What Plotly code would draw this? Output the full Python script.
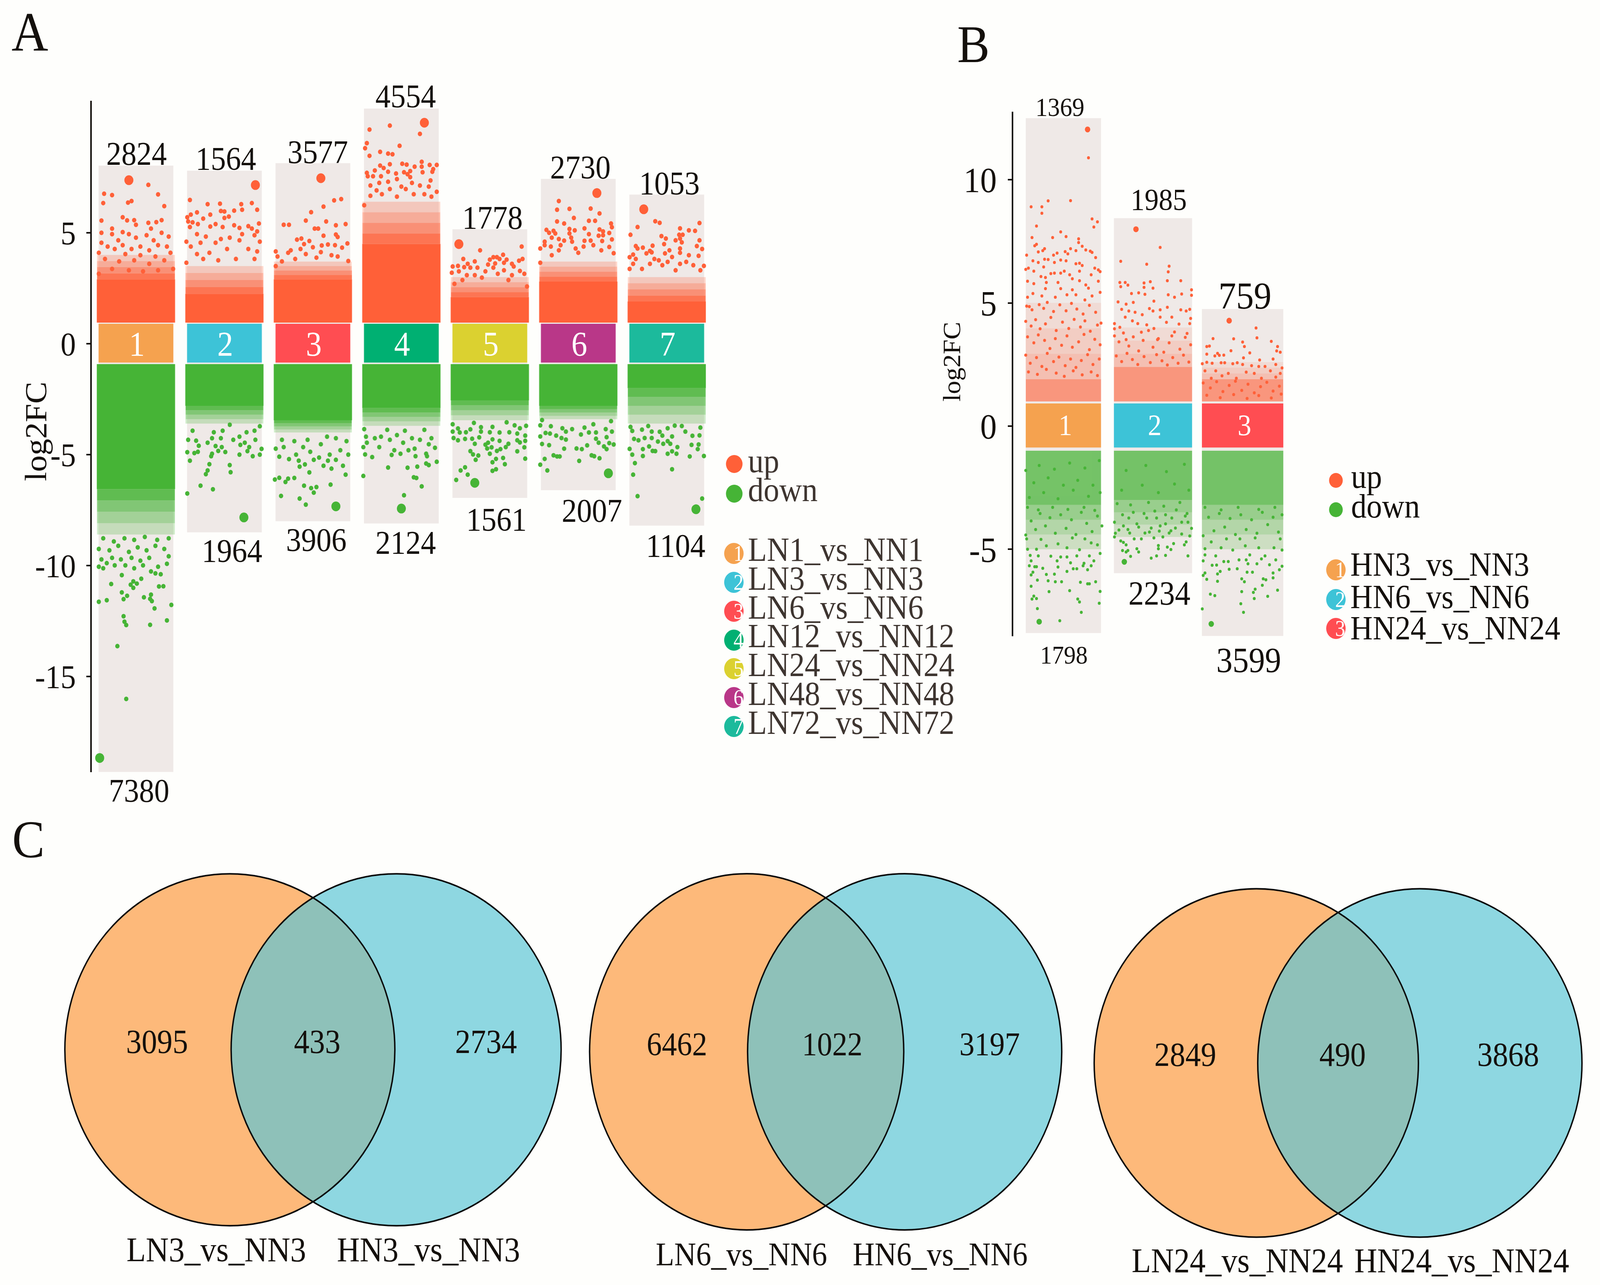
import plotly.graph_objects as go

W, H = 4441, 3290
FONT = "Liberation Serif"
INK = "#14100C"
LEG_INK = "#3E3530"
UP = "#FF6038"
DOWN = "#46B436"
BG = "#EFE9E7"
PAGE = "#FEFEFC"
TILES = ["#F5A24F", "#3DC3D7", "#FF4D52", "#00B072", "#DBD130", "#B93788", "#1CBA9C"]

# ---------- panel A data ----------
A_TOP = [8.03, 7.8, 8.14, 10.6, 5.16, 7.43, 6.72]
A_BOTTOM = [-19.3, -8.5, -8.0, -8.1, -6.95, -6.6, -8.2]
A_UP_COUNT = ["2824", "1564", "3577", "4554", "1778", "2730", "1053"]
A_DOWN_COUNT = ["7380", "1964", "3906", "2124", "1561", "2007", "1104"]
A_UP_SOLID = [2.9, 2.25, 2.9, 4.5, 2.1, 2.8, 1.9]
A_UP_SEMI = [4.0, 3.5, 3.7, 6.4, 3.0, 3.7, 3.0]
A_DOWN_SOLID = [-6.55, -2.8, -3.45, -2.9, -2.55, -2.8, -2.0]
A_DOWN_SEMI = [-8.6, -3.6, -4.0, -3.7, -3.45, -3.4, -3.6]
A_NAMES = ["LN1_vs_NN1", "LN3_vs_NN3", "LN6_vs_NN6", "LN12_vs_NN12", "LN24_vs_NN24", "LN48_vs_NN48", "LN72_vs_NN72"]

# (offset from column centre, log2FC); the first pair in each list is the enlarged extreme point
A1_UP = [(-.08,7.37),(.14,7.16),(-.36,6.76),(-.27,6.7),(.25,6.73),(-.37,6.34),(-.09,6.36),(-.05,6.43),(.32,6.2),(-.39,5.55),(-.15,5.7),(-.1,5.56),(-.02,5.57),(.14,5.45),(.23,5.48),(.29,5.57),(-.39,5.0),(-.27,5.19),(0,5.36),(-.15,5.03),(.17,5.19),(-.39,4.55),(-.27,4.94),(-.2,4.66),(-.08,4.94),(0,4.78),(.12,4.89),(.2,4.66),(.29,5.0),(.37,4.83),(-.32,4.38),(-.24,4.27),(-.15,4.44),(-.05,4.27),(.05,4.38),(.15,4.21),(.25,4.44),(.35,4.38),(.39,4.1),(-.42,4.1),(-.12,4.04),(.05,3.99),(.22,3.93),(-.35,3.82),(-.19,3.71),(-.02,3.76),(.15,3.6),(.32,3.76),(.42,3.37),(-.42,3.15),(-.27,3.37),(-.08,3.31),(.08,3.26),(.25,3.31)]
A2_UP = [(.35,7.15),(-.39,6.48),(-.19,6.29),(-.05,6.31),(.19,6.29),(.31,6.34),(.37,6.04),(-.04,5.98),(0,5.96),(.11,6),(.2,6.04),(-.31,5.92),(-.38,5.82),(-.42,5.7),(-.16,5.82),(.05,5.73),(0,5.67),(-.24,5.64),(-.41,5.51),(-.36,5.47),(-.3,5.39),(-.1,5.39),(-.02,5.26),(.11,5.34),(.39,5.42),(-.39,5.26),(-.16,5.28),(.17,5.22),(.27,5.3),(.31,5.19),(.37,5.06),(-.31,4.94),(-.21,4.83),(-.04,4.72),(.06,4.78),(.2,4.94),(.34,4.89),(-.43,4.6),(-.27,4.55),(-.1,4.55),(.17,4.66),(.4,4.6),(-.38,4.38),(-.17,4.1),(-.31,4.04),(.03,4.27),(.27,4.27),(.37,4.16),(-.43,3.65),(-.24,3.82),(-.07,3.76),(.13,3.82),(.34,3.82)]
A3_UP = [(.09,7.46),(.24,6.46),(.32,6.52),(.12,6.18),(-.02,5.93),(-.08,5.55),(.15,5.51),(-.33,5.36),(-.27,5.36),(.26,5.34),(.37,5.39),(.02,5.19),(.06,5.19),(.26,4.92),(.28,4.81),(.12,4.87),(-.18,4.69),(-.13,4.74),(-.04,4.63),(.39,4.52),(-.1,4.49),(.1,4.43),(.17,4.47),(.25,4.44),(.33,4.33),(-.14,4.27),(0,4.35),(-.25,4.21),(-.42,4.16),(-.28,4.1),(-.08,4.04),(.09,4.13),(.21,3.99),(-.4,3.93),(-.2,3.82),(.04,3.88),(.28,3.93),(.4,3.73),(-.35,3.71),(-.42,3.5)]
A4_UP = [(.26,9.96),(-.13,9.83),(-.36,9.65),(.21,9.46),(-.39,9.04),(-.02,8.92),(-.41,8.81),(-.24,8.65),(-.15,8.57),(-.1,8.54),(-.36,8.47),(.23,8.2),(.01,8.11),(.06,8.07),(.32,8.06),(.4,8.06),(-.24,8.03),(-.13,8.09),(.15,7.98),(.23,7.98),(-.2,7.92),(.36,7.87),(-.3,7.81),(-.39,7.7),(-.15,7.75),(.03,7.73),(.1,7.78),(.24,7.73),(-.38,7.55),(-.32,7.55),(-.23,7.55),(-.06,7.67),(.07,7.64),(.35,7.75),(-.05,7.42),(.1,7.51),(.33,7.36),(-.35,7.13),(-.25,7.25),(-.15,7.3),(0,7.08),(.12,7.25),(.21,7.13),(.31,7.08),(-.28,6.91),(-.13,6.97),(.05,6.97),(.4,6.85),(-.42,6.24),(-.35,6.67),(-.22,6.74),(-.05,6.63),(.14,6.74),(.26,6.74),(.34,6.63)]
A5_UP = [(-.35,4.49),(-.11,4.21),(.36,4.38),(-.3,3.82),(.15,4.01),(.04,3.9),(.08,3.9),(.11,3.82),(.19,3.79),(0,3.79),(.37,3.82),(.33,3.74),(-.17,3.71),(-.25,3.6),(-.02,3.57),(.06,3.62),(.16,3.65),(.25,3.6),(-.42,3.48),(-.36,3.51),(-.29,3.45),(-.22,3.43),(-.14,3.43),(.04,3.43),(.27,3.48),(-.43,3.2),(-.35,3.26),(-.05,3.26),(.16,3.31),(.34,3.28),(.39,3.15),(-.26,3.09),(-.17,3.09),(.09,3.15),(.25,3.09),(-.4,2.7),(-.31,2.87),(-.09,2.98),(.21,2.87),(.42,2.58)]
A6_UP = [(.21,6.79),(-.22,6.43),(-.24,6.04),(-.1,6.08),(.14,6.09),(.24,5.87),(-.05,5.67),(-.24,5.51),(-.16,5.42),(.12,5.54),(.19,5.54),(.37,5.42),(.38,5.25),(.07,5.2),(-.36,5.13),(-.28,5.09),(-.1,5.17),(-.04,5.11),(.24,5.15),(.28,5.06),(.35,4.99),(-.33,5),(-.26,4.97),(-.1,4.97),(.12,4.94),(.28,4.89),(.23,4.87),(-.3,4.78),(-.22,4.72),(-.08,4.78),(-.38,4.6),(-.16,4.65),(.07,4.64),(.14,4.65),(.27,4.63),(.38,4.7),(-.07,4.6),(-.38,4.44),(-.31,4.38),(-.2,4.44),(-.03,4.29),(.06,4.38),(.17,4.44),(.35,4.36),(-.43,4.29),(-.22,4.21),(0,4.1),(.26,4.21),(.4,4.08),(-.43,3.65),(-.3,3.99)]
A7_UP = [(-.26,6.06),(-.13,5.52),(-.08,5.45),(.37,5.44),(-.33,5.26),(.15,5.2),(.25,5.11),(.32,5.09),(-.41,4.91),(-.06,4.85),(.14,4.91),(.18,4.91),(-.01,4.74),(.15,4.74),(.1,4.66),(.37,4.66),(.17,4.57),(-.03,4.49),(-.16,4.42),(-.35,4.4),(.34,4.4),(-.33,4.29),(-.27,4.33),(.15,4.29),(.4,4.27),(-.19,4.18),(.03,4.21),(-.23,4.07),(-.17,4.12),(-.02,4.07),(.15,4.1),(-.38,4.02),(.06,3.91),(.25,3.99),(.36,3.96),(-.42,3.9),(-.35,3.82),(-.14,3.82),(-.09,3.76),(.01,3.69),(.15,3.6),(.22,3.69),(.3,3.54),(.42,3.51),(-.38,3.6),(-.19,3.6),(-.05,3.54),(-.42,3.37),(-.28,3.37),(.1,3.31),(.38,3.31)]

A1_DOWN = [(-.41,-18.67),(-.11,-16.01),(-.21,-13.63),(.16,-12.67),(.35,-12.47),(-.11,-12.68),(-.13,-12.53),(-.14,-12.28),(.21,-11.93),(.4,-11.77),(-.42,-11.63),(-.33,-11.56),(.18,-11.6),(.16,-11.5),(-.14,-11.51),(-.1,-11.36),(.09,-11.43),(.17,-11.31),(-.16,-11.21),(.26,-10.94),(.31,-10.93),(-.06,-10.86),(-.03,-11),(-.28,-10.83),(.01,-10.81),(-.03,-10.71),(.06,-10.59),(-.16,-10.43),(.17,-10.26),(.22,-10.35),(.28,-10.39),(-.42,-10.05),(-.37,-10.12),(-.33,-9.89),(-.24,-9.99),(-.12,-9.99),(-.02,-10.12),(.08,-9.99),(.25,-10.05),(.35,-9.92),(-.39,-9.72),(-.27,-9.65),(-.17,-9.72),(-.05,-9.65),(.05,-9.78),(.15,-9.65),(.37,-9.58),(-.42,-9.25),(-.3,-9.31),(-.2,-9.11),(-.08,-9.38),(.02,-9.18),(.12,-9.31),(.22,-9.11),(.32,-9.25),(-.37,-8.77),(-.25,-8.91),(-.13,-8.77),(-.02,-8.84),(.1,-8.71),(.24,-8.84),(.37,-8.77)]
A2_DOWN = [(.22,-7.83),(-.42,-6.75),(-.27,-6.4),(-.13,-6.56),(-.21,-5.88),(-.19,-5.71),(.07,-5.79),(-.17,-5.43),(.06,-5.47),(-.39,-5.27),(-.42,-4.89),(-.34,-4.93),(-.3,-4.87),(-.15,-5.07),(-.14,-4.96),(.01,-4.88),(.17,-5),(.32,-5.07),(.4,-5),(.42,-4.74),(.26,-4.84),(.28,-4.66),(-.03,-4.66),(-.07,-4.83),(-.1,-4.61),(.18,-4.56),(-.29,-4.6),(-.41,-4.33),(-.32,-4.37),(-.19,-4.46),(.1,-4.33),(.23,-4.46),(.35,-4.33),(-.14,-4.26),(-.04,-4.26),(.17,-4.19),(-.36,-3.92),(-.12,-3.99),(-.02,-3.92),(.06,-3.65),(.25,-3.99),(.34,-3.92),(.4,-3.72)]
A3_DOWN = [(.26,-7.33),(-.36,-6.86),(-.15,-6.98),(-.08,-7.25),(-.43,-6.12),(-.38,-6.04),(-.31,-6.23),(-.28,-6.08),(-.21,-6.05),(-.04,-5.8),(-.1,-6.4),(-.02,-6.51),(.04,-6.46),(.01,-6.71),(.2,-6.35),(.37,-5.9),(.21,-5.63),(.12,-5.5),(.34,-5.5),(-.15,-5.54),(-.09,-5.44),(-.16,-5.27),(-.27,-5.2),(.01,-5.23),(.07,-5.13),(.17,-5.27),(.26,-5.23),(.4,-5),(-.38,-5.09),(-.42,-4.73),(-.19,-5),(-.03,-4.87),(.19,-5),(.31,-4.8),(-.33,-4.66),(-.11,-4.66),(.09,-4.53),(.38,-4.39),(-.35,-4.33),(-.21,-4.39),(-.06,-4.33),(.16,-4.19),(.26,-4.26)]
A4_DOWN = [(0,-7.43),(.03,-6.83),(.23,-6.43),(-.43,-5.96),(-.15,-5.58),(.07,-5.59),(.18,-5.54),(.14,-6.02),(.17,-6.05),(.28,-5.4),(.31,-5.47),(.4,-5.32),(-.41,-4.99),(-.33,-5.11),(-.11,-5.01),(-.01,-4.96),(.08,-4.8),(.16,-5.07),(.28,-4.96),(.29,-5.07),(.38,-4.69),(-.43,-4.66),(-.25,-4.66),(-.08,-4.8),(.15,-4.73),(-.39,-4.46),(-.3,-4.26),(-.13,-4.33),(.02,-4.46),(.21,-4.33),(.31,-4.53),(-.4,-4.19),(-.23,-4.19),(-.05,-4.12),(.12,-4.26),(.34,-4.26),(-.42,-3.85),(-.16,-3.88),(.04,-3.92),(.26,-3.88)]
A5_DOWN = [(-.17,-6.27),(-.38,-6.14),(-.25,-5.9),(-.33,-5.71),(-.28,-5.57),(.03,-5.73),(.07,-5.66),(.17,-5.43),(.03,-5.34),(.07,-5.19),(.15,-5.15),(.4,-5.18),(-.16,-5.23),(-.13,-5.04),(-.19,-4.99),(-.22,-4.84),(0,-4.96),(.31,-4.85),(.08,-4.83),(.12,-4.75),(.18,-4.66),(.39,-4.67),(-.03,-4.72),(-.05,-4.55),(.02,-4.67),(.21,-4.51),(-.17,-4.51),(-.02,-4.46),(.11,-4.38),(.03,-4.31),(.31,-4.35),(.34,-4.45),(.4,-4.38),(-.36,-4.35),(-.41,-4.25),(-.28,-4.29),(-.2,-4.28),(-.12,-4.22),(.11,-4),(-.27,-3.99),(-.34,-4),(-.42,-3.96),(-.1,-3.96),(0,-3.99),(.22,-3.99),(.31,-4.05),(.4,-4.14),(-.42,-3.63),(-.36,-3.82),(-.22,-3.86),(-.1,-3.76),(.03,-3.75),(.34,-3.81),(.41,-3.7),(-.18,-3.57),(.19,-3.54),(.28,-3.68)]
A6_DOWN = [(.34,-5.84),(-.35,-5.71),(-.43,-5.45),(-.38,-5.19),(.01,-5.28),(.24,-5.16),(-.28,-5.03),(-.24,-5.08),(-.21,-5.08),(.15,-5.03),(.18,-5.07),(-.16,-4.73),(-.02,-4.72),(.04,-4.75),(.32,-4.75),(-.33,-4.57),(-.41,-4.52),(.1,-4.58),(.29,-4.63),(.23,-4.46),(.35,-4.48),(.4,-4.54),(-.14,-4.32),(.2,-4.28),(.32,-4.21),(-.43,-4.18),(-.19,-4.25),(-.25,-4.14),(-.32,-4.05),(-.37,-4.02),(.03,-4.09),(.12,-4),(.2,-4),(.38,-3.96),(-.14,-3.96),(-.07,-3.85),(-.43,-3.68),(.07,-3.78),(.31,-3.85),(-.18,-3.81),(-.31,-3.72),(.17,-3.63),(.37,-3.49),(-.41,-3.44)]
A7_DOWN = [(.33,-7.46),(.4,-6.98),(-.33,-6.87),(-.38,-5.9),(.06,-5.66),(-.36,-5.38),(.42,-5.06),(-.27,-5.06),(.26,-5.08),(-.39,-5),(.01,-4.96),(.11,-4.96),(.06,-4.85),(-.42,-4.74),(-.27,-4.75),(-.16,-4.83),(-.13,-4.84),(.35,-4.75),(.12,-4.66),(-.2,-4.63),(.28,-4.56),(.36,-4.54),(-.04,-4.51),(.04,-4.51),(-.1,-4.41),(-.32,-4.35),(-.37,-4.29),(-.25,-4.25),(-.17,-4.25),(.01,-4.39),(.29,-4.15),(.37,-4.13),(.06,-4.18),(-.05,-4.14),(-.17,-3.96),(-.08,-3.97),(.21,-3.96),(-.39,-3.93),(-.28,-3.87),(.01,-3.81),(.38,-3.78),(.09,-3.69),(-.21,-3.71),(.17,-3.71),(-.41,-3.75)]

# ---------- panel B data ----------
B_TOP = [12.5, 8.44, 4.75]
B_BOTTOM = [-8.4, -5.97, -8.52]
B_WIDTH = [0.84, 0.872, 0.908]
B_UP_COUNT = ["1369", "1985", "759"]
B_DOWN_COUNT = ["1798", "2234", "3599"]
B_UP_DENSE = [1.9, 2.4, 1.9]
B_UP_SPARSE = [5.0, 4.0, 2.6]
B_DOWN_DENSE = [-3.2, -3.0, -3.2]
B_DOWN_SPARSE = [-5.0, -4.5, -5.0]
B_NAMES = ["HN3_vs_NN3", "HN6_vs_NN6", "HN24_vs_NN24"]

B1_UP = [(.27,12.04),(.28,10.89),(-.17,9.14),(.08,9.15),(-.36,8.9),(-.24,8.9),(-.24,8.64),(.32,8.41),(.38,8.29),(.34,8.08),(-.3,8.12),(-.03,7.88),(.03,7.69),(-.12,7.65),(-.35,7.65),(.17,7.6),(.17,7.45),(-.3,7.38),(-.32,7.32),(.21,7.3),(-.21,7.2),(.08,7.2),(-.23,7.12),(.02,7.08),(.14,7.12),(.25,7.15),(.3,7.1),(.32,7.05),(-.41,6.94),(-.11,6.94),(-.07,7.02),(.05,6.99),(-.28,7.07),(.36,6.84),(-.34,6.71),(-.28,6.64),(-.21,6.77),(-.17,6.76),(-.1,6.64),(-.03,6.74),(.03,6.71),(.14,6.59),(.18,6.61),(-.42,6.36),(-.39,6.41),(.21,6.52),(-.22,6.46),(.35,6.41),(.39,6.34),(-.33,6.29),(.41,6.27),(.01,6.29),(.18,6.29),(-.1,6.21),(-.14,6.19),(-.03,6.21),(.31,6.14),(-.25,6.07),(-.2,6.03),(.07,6.14),(-.4,5.88),(-.33,5.78),(-.19,5.83),(-.06,5.83),(.1,5.98),(.18,5.9),(.25,5.73),(.39,5.88),(-.2,5.58),(-.03,5.58),(.1,5.53),(.28,5.6),(-.4,5.23),(-.34,5.38),(-.24,5.28),(-.09,5.23),(.04,5.33),(.14,5.33),(.24,5.12),(.32,5.28),(.41,5.43),
         (-.41,4.87),(-.38,4.85),(-.35,4.72),(-.27,4.93),(-.22,4.78),(-.18,5.02),(-.11,4.65),(-.04,4.92),(.03,4.68),(.09,4.98),(.15,4.75),(.22,4.55),(.29,4.9),(.36,4.62),(.42,4.18),(-.42,4.25),(-.36,4.06),(-.31,4.32),(-.26,3.95),(-.2,4.15),(-.14,4.41),(-.08,3.88),(-.01,4.22),(.06,3.96),(.12,4.33),(.19,4.02),(.24,4.27),(.3,3.85),(.38,4.1),(-.4,3.62),(-.33,3.38),(-.28,3.7),(-.21,3.48),(-.15,3.15),(-.09,3.55),(-.02,3.28),(.04,3.66),(.1,3.2),(.17,3.42),(.23,3.72),(.29,3.1),(.35,3.52),(.41,3.3),(-.42,2.88),(-.37,2.55),(-.3,2.78),(-.24,2.42),(-.18,2.95),(-.11,2.62),(-.05,2.8),(.02,2.45),(.08,2.72),(.14,2.38),(.2,2.66),(.27,2.9),(.33,2.5),(.4,2.72),(-.39,2.2),(-.29,2.1),(-.19,2.3),(-.08,2.15),(.01,2.02),(.11,2.24),(.21,2.08),(.31,2.2),(.38,2.05)]
B2_UP = [(-.19,7.99),(.08,7.25),(-.36,6.69),(-.07,6.57),(.18,6.49),(.17,6.26),(.16,5.9),(.31,5.9),(-.37,5.83),(-.31,5.83),(-.36,5.66),(-.28,5.72),(-.1,5.81),(-.1,5.63),(-.03,5.86),(0,5.6),(.43,5.53),(-.24,5.38),(-.16,5.41),(-.09,5.35),(.17,5.33),(.32,5.36),(.43,5.31),(.24,5.23),(.01,5.07),(-.39,5.04),(-.22,5.02),(-.3,4.95),(-.35,4.74),(-.04,4.77),(.08,4.72),(.16,4.82),(.31,4.72),(.37,4.67),(.41,4.74),(-.27,4.67),(-.2,4.62),(-.12,4.52),(0,4.67),(-.31,4.42),(-.23,4.27),(-.43,4.16),(-.07,4.11),(.08,4.42),(.21,4.42),(.42,4.37),(-.37,4.01),(-.17,4.16),(.01,3.96),(.15,4.21),(.29,4.14),(.41,4.16),(-.43,3.66),(-.3,3.51),(-.13,3.81),(.05,3.51),(.21,3.66),(.38,3.76),
         (-.43,3.95),(-.38,3.42),(-.33,3.78),(-.27,3.25),(-.22,3.62),(-.16,3.05),(-.11,3.48),(-.05,3.88),(0,3.2),(.06,3.55),(.12,3),(.18,3.38),(.24,3.82),(.3,3.12),(.36,3.6),(.42,3.3),(-.41,2.85),(-.35,2.62),(-.29,2.95),(-.23,2.7),(-.17,2.5),(-.1,2.82),(-.03,2.58),(.04,2.9),(.1,2.65),(.16,2.48),(.22,2.78),(.28,2.55),(.34,2.88),(.4,2.6)]
B3_UP = [(-.15,4.28),(.15,3.98),(.16,3.58),(-.33,3.55),(-.1,3.54),(.32,3.44),(0,3.41),(.39,3.23),(-.37,3.25),(-.4,3.23),(.02,3.23),(-.13,3.06),(.38,3.05),(.42,3),(-.4,2.92),(.08,2.97),(-.28,2.95),(-.26,2.87),(-.31,2.85),(-.21,2.88),(.01,2.77),(.19,2.68),(.34,2.72),(-.45,2.53),(-.4,2.59),(-.34,2.55),(-.24,2.57),(-.2,2.57),(-.11,2.53),(-.06,2.57),(0,2.5),(.1,2.45),(.18,2.42),(.25,2.42),(.37,2.5),(.44,2.36),(-.42,2.24),(-.3,2.24),(-.16,2.14),(.04,2.19),(.13,2.14),(.31,2.24),(.42,2.14),(-.35,1.94),(-.23,2.04),(-.07,1.94),(.21,1.94),(.37,1.99),
         (-.44,1.75),(-.36,1.55),(-.29,1.8),(-.22,1.4),(-.15,1.65),(-.08,1.82),(-.01,1.45),(.06,1.7),(.13,1.35),(.2,1.6),(.27,1.78),(.34,1.42),(.41,1.62),(-.4,1.25),(-.25,1.15),(-.1,1.28),(.05,1.12),(.18,1.24),(.32,1.14),(.43,1.3)]
B1_DOWN = [(-.27,-7.94),(-.04,-7.9),(.2,-7.56),(-.29,-7.41),(.4,-7.19),(.18,-7.14),(.16,-7.02),(-.35,-7.02),(-.3,-7),(-.33,-6.9),(.41,-6.71),(-.16,-6.72),(.07,-6.68),(-.36,-6.5),(-.29,-6.25),(-.17,-6.28),(-.09,-6.32),(-.02,-6.32),(.19,-6.34),(.27,-6.4),(.29,-6.4),(.36,-6.32),(-.36,-6.04),(-.19,-6.02),(-.1,-6.01),(.04,-5.9),(-.34,-5.93),(-.23,-5.77),(-.06,-5.72),(.11,-5.79),(.15,-5.79),(.22,-5.67),(.27,-5.83),(.31,-5.67),(.34,-5.47),(-.38,-5.67),(-.32,-5.71),(-.3,-5.71),(-.36,-5.47),(-.07,-5.47),(.08,-5.55),(.23,-5.57),(-.37,-5.25),(-.28,-5.27),(-.14,-5.28),(-.03,-5.31),(.04,-5.31),(.15,-5.27),(.29,-5.27),(.41,-5.17),(-.4,-5),(-.3,-5.0),(-.19,-4.86),(.04,-4.94),(.18,-5.02),(.38,-4.82),(-.41,-4.58),(-.25,-4.6),(-.06,-4.78),(.1,-4.54),(.24,-4.58),(.31,-4.74),
           (-.42,-4.42),(-.36,-3.85),(-.31,-4.2),(-.26,-3.55),(-.2,-4.05),(-.15,-3.72),(-.09,-4.35),(-.03,-3.6),(.03,-4.15),(.09,-3.8),(.14,-4.4),(.2,-3.5),(.26,-3.95),(.32,-4.28),(.38,-3.65),(.43,-4.05),(-.4,-3.3),(-.28,-3.4),(-.12,-3.3),(.05,-3.38),(.23,-3.3),(.35,-3.42),(-.38,-2.9),(-.22,-2.7),(-.06,-2.95),(.11,-2.6),(.28,-2.85),(.41,-2.7),(-.33,-2.3),(-.17,-2.1),(0,-2.4),(.16,-2.2),(.33,-2.4),(-.42,-1.8),(-.27,-1.6),(-.1,-1.75),(.07,-1.5),(.24,-1.7),(.4,-1.4)]
B2_DOWN = [(-.32,-5.51),(-.02,-5.36),(.04,-5.27),(.14,-5.25),(.39,-5.27),(-.25,-5.29),(-.16,-5.11),(-.34,-5.05),(-.3,-5.11),(-.28,-5.05),(-.18,-4.98),(.06,-4.98),(.2,-5.01),(.16,-4.91),(-.33,-4.72),(-.3,-4.82),(.06,-4.85),(.23,-4.77),(.35,-4.82),(.37,-4.7),(-.43,-4.5),(-.36,-4.66),(-.21,-4.58),(-.13,-4.58),(.01,-4.54),(.11,-4.5),(.41,-4.46),(-.38,-4.22),(-.26,-4.34),(-.09,-4.34),(.07,-4.26),(.18,-4.34),(.32,-4.38),(-.43,-3.9),(-.33,-4.05),(-.18,-3.97),(-.02,-4.14),(.14,-3.97),(.25,-4.14),(.39,-3.9),(-.27,-3.73),(-.07,-3.73),(.04,-3.73),(.21,-3.73),(.36,-3.65),
           (-.42,-4.35),(-.34,-3.6),(-.28,-4.2),(-.22,-3.5),(-.16,-4.1),(-.1,-3.55),(-.04,-4.3),(.02,-3.45),(.08,-4.05),(.14,-3.6),(.2,-4.25),(.26,-3.4),(.32,-3.9),(.38,-3.55),(.43,-4.15),(-.4,-3.15),(-.25,-3.2),(-.05,-3.1),(.12,-3.25),(.3,-3.1),(-.35,-2.6),(-.12,-2.4),(.06,-2.7),(.24,-2.35),(.4,-2.6),(-.3,-1.8),(-.08,-1.6),(.15,-1.85),(.35,-1.55)]
B3_DOWN = [(-.35,-8.03),(.01,-7.56),(-.45,-7.42),(-.02,-7.21),(.13,-7),(.28,-6.91),(-.36,-6.82),(-.31,-6.88),(.39,-6.66),(-.01,-6.72),(.12,-6.75),(.14,-6.62),(.22,-6.46),(-.28,-6.3),(-.4,-6.22),(-.01,-6.2),(.02,-6.32),(.23,-6.2),(.26,-6.24),(.34,-6.16),(-.44,-6.06),(-.42,-5.96),(-.28,-6),(-.25,-5.9),(.05,-5.93),(.11,-5.93),(.34,-5.96),(.41,-5.83),(.44,-5.69),(-.34,-5.65),(-.29,-5.64),(-.15,-5.81),(-.06,-5.79),(.06,-5.59),(.16,-5.59),(.3,-5.63),(-.44,-5.47),(-.21,-5.5),(-.16,-5.5),(-.04,-5.43),(.04,-5.43),(.21,-5.39),(.37,-5.43),(-.42,-5.23),(-.3,-5.27),(-.11,-5.03),(.08,-5.23),(.25,-5.27),(.44,-5.03),(-.42,-4.98),(-.24,-4.94),(.03,-4.86),(.18,-4.94),(.35,-4.94),(-.35,-4.7),(-.18,-4.58),(-.03,-4.58),(.14,-4.54),(.42,-4.58),
           (-.44,-4.45),(-.38,-3.7),(-.32,-4.25),(-.26,-3.55),(-.2,-4.1),(-.14,-3.75),(-.08,-4.4),(-.02,-3.6),(.04,-4.2),(.1,-3.8),(.16,-4.35),(.22,-3.5),(.28,-4),(.34,-3.7),(.4,-4.3),(.44,-3.6),(-.42,-3.3),(-.24,-3.4),(-.05,-3.3),(.18,-3.38),(.36,-3.3)]

# ---------- panel C data ----------
VENN_LEFT = ["3095", "6462", "2849"]
VENN_MIDDLE = ["433", "1022", "490"]
VENN_RIGHT = ["2734", "3197", "3868"]
VENN_LEFT_NAME = ["LN3_vs_NN3", "LN6_vs_NN6", "LN24_vs_NN24"]
VENN_RIGHT_NAME = ["HN3_vs_NN3", "HN6_vs_NN6", "HN24_vs_NN24"]

A_UP = [A1_UP, A2_UP, A3_UP, A4_UP, A5_UP, A6_UP, A7_UP]
A_DOWN = [A1_DOWN, A2_DOWN, A3_DOWN, A4_DOWN, A5_DOWN, A6_DOWN, A7_DOWN]
B_UP = [B1_UP, B2_UP, B3_UP]
B_DOWN = [B1_DOWN, B2_DOWN, B3_DOWN]


def X(p):
    return p / W


def Y(p):
    return 1 - p / H


def bar(xs, lo, hi, width, color, xa, ya, opacity=1):
    return go.Bar(x=xs, y=[h - l for l, h in zip(lo, hi)], base=lo, width=width,
                  marker=dict(color=color, line=dict(width=0)), opacity=opacity,
                  xaxis=xa, yaxis=ya, hoverinfo="skip", showlegend=False)


def dots(columns, color, small, big, xa, ya):
    xs, ys, sizes = [], [], []
    for i, pts in enumerate(columns):
        for k, (dx, v) in enumerate(pts):
            xs.append(i + 1 + dx)
            ys.append(v)
            sizes.append(big if k == 0 else small)
    return go.Scatter(x=xs, y=ys, mode="markers", cliponaxis=False,
                      marker=dict(color=color, size=sizes, opacity=1, line=dict(width=0)),
                      xaxis=xa, yaxis=ya, hoverinfo="skip", showlegend=False)


def fade(fig, xs, near, far, width, color, xa, ya, opacities):
    """Bands between the solid part of a cloud and its scattered edge, thinning outwards."""
    n = len(opacities)
    for j, op in enumerate(opacities):
        a = [s + (e - s) * j / n for s, e in zip(near, far)]
        b = [s + (e - s) * (j + 1) / n for s, e in zip(near, far)]
        lo = [min(p, q) for p, q in zip(a, b)]
        hi = [max(p, q) for p, q in zip(a, b)]
        fig.add_trace(bar(xs, lo, hi, width, color, xa, ya, op))


fig = go.Figure()

# panel A
ax = list(range(1, 8))
FADE_A = [0.85, 0.65, 0.45, 0.25]
fig.add_trace(bar(ax, A_BOTTOM, A_TOP, 0.845, BG, "x", "y"))
fade(fig, ax, A_UP_SOLID, A_UP_SEMI, 0.88, UP, "x", "y", FADE_A)
fig.add_trace(bar(ax, [0.95] * 7, A_UP_SOLID, 0.885, UP, "x", "y"))
fade(fig, ax, A_DOWN_SOLID, A_DOWN_SEMI, 0.88, DOWN, "x", "y", FADE_A)
fig.add_trace(bar(ax, A_DOWN_SOLID, [-0.92] * 7, 0.885, DOWN, "x", "y"))
fig.add_trace(bar(ax, [-0.85] * 7, [0.9] * 7, 0.845, TILES, "x", "y"))
fig.add_trace(dots(A_UP, UP, 12, 25, "x", "y"))
fig.add_trace(dots(A_DOWN, DOWN, 12, 25, "x", "y"))

# panel B
bx = [1, 2, 3]
fig.add_trace(bar(bx, B_BOTTOM, B_TOP, B_WIDTH, BG, "x2", "y2"))
fade(fig, bx, B_UP_DENSE, B_UP_SPARSE, B_WIDTH, UP, "x2", "y2", [0.3, 0.2, 0.1])
fig.add_trace(bar(bx, [1] * 3, B_UP_DENSE, B_WIDTH, UP, "x2", "y2", 0.6))
fade(fig, bx, B_DOWN_DENSE, B_DOWN_SPARSE, B_WIDTH, DOWN, "x2", "y2", [0.5, 0.35, 0.2])
fig.add_trace(bar(bx, B_DOWN_DENSE, [-1] * 3, B_WIDTH, DOWN, "x2", "y2", 0.72))
fig.add_trace(bar(bx, [-0.87] * 3, [0.92] * 3, B_WIDTH, TILES[:3], "x2", "y2"))
fig.add_trace(dots(B_UP, UP, 8, 15, "x2", "y2"))
fig.add_trace(dots(B_DOWN, DOWN, 8, 15, "x2", "y2"))

notes = []


def text(s, px, py, size, color=INK, anchor="center", angle=0):
    notes.append(dict(text=s, x=X(px), y=Y(py), xref="paper", yref="paper", showarrow=False,
                      xanchor=anchor, yanchor="middle", textangle=angle,
                      font=dict(family=FONT, size=size, color=color), borderpad=0, borderwidth=0))


# panel letters
text("A", 83, 81, 141)
text("B", 2702, 113, 135)
text("C", 79, 2149, 135)

# axis titles
text("log2FC", 99, 1105, 85, angle=-90)
text("log2FC", 2642, 926, 68, angle=-90)

# panel A counts
A_TOP_POS = [(379, 394), (627, 407), (882, 389), (1126, 247), (1367, 557), (1611, 428), (1858, 469)]
A_BOT_POS = [(386, 2025), (644, 1410), (878, 1382), (1126, 1389), (1378, 1330), (1643, 1307), (1876, 1398)]
for s, (x, y) in zip(A_UP_COUNT, A_TOP_POS):
    text(s, x, y, 84)
for s, (x, y) in zip(A_DOWN_COUNT, A_BOT_POS):
    text(s, x, y, 84)

# panel B counts
for s, (x, y), sz in zip(B_UP_COUNT, [(2942, 274), (3216, 510), (3455, 757)], [68, 78, 98]):
    text(s, x, y, sz)
for s, (x, y), sz in zip(B_DOWN_COUNT, [(2953, 1676), (3218, 1519), (3466, 1690)], [66, 86, 90]):
    text(s, x, y, sz)

# tile digits
for i in ax:
    notes.append(dict(text=str(i), x=i + 0.01, y=0.0, xref="x", yref="y", showarrow=False,
                      font=dict(family=FONT, size=88, color="white")))
for i in bx:
    notes.append(dict(text=str(i), x=i + 0.02, y=0.05, xref="x2", yref="y2", showarrow=False,
                      font=dict(family=FONT, size=76, color="white")))

shapes = []


def dot(cx, cy, d, color):
    shapes.append(dict(type="circle", xref="paper", yref="paper", x0=X(cx - d / 2), x1=X(cx + d / 2),
                       y0=Y(cy + d / 2), y1=Y(cy - d / 2), fillcolor=color, line=dict(width=0)))


# legends
dot(2038, 1188, 46, UP)
dot(2038, 1264, 46, DOWN)
text("up", 2076, 1179, 87, LEG_INK, "left")
text("down", 2076, 1253, 87, LEG_INK, "left")
A_ROW_DOT = [1417, 1491, 1565, 1639, 1712, 1786, 1860]
A_ROW_TEXT = [1407, 1481, 1555, 1628, 1702, 1776, 1850]
for i, (name, yd, yt) in enumerate(zip(A_NAMES, A_ROW_DOT, A_ROW_TEXT)):
    dot(2037, yd, 54, TILES[i])
    text(str(i + 1), 2050, yd, 56, "white")
    text(name, 2076, yt, 86, LEG_INK, "left")

dot(3708, 1230, 38, UP)
dot(3708, 1305, 38, DOWN)
text("up", 3750, 1220, 86, INK, "left")
text("down", 3750, 1296, 86, INK, "left")
B_ROW_DOT = [1459, 1535, 1609]
B_ROW_TEXT = [1445, 1528, 1608]
for i, (name, yd, yt) in enumerate(zip(B_NAMES, B_ROW_DOT, B_ROW_TEXT)):
    dot(3708, yd, 54, TILES[i])
    text(str(i + 1), 3720, yd, 56, "white")
    text(name, 3748, yt, 86, INK, "left")

# Venn diagrams
VENN_GEOM = [(638, 1099.5, 458, 2687.7, 450.5), (2072.5, 2511, 436, 2693, 456), (3487, 3941, 450, 2721.5, 446)]
VENN_NUM_X = [(436, 880, 1349), (1879, 2310, 2747), (3290, 3726, 4186)]
VENN_NUM_Y = [2667, 2673, 2700]
VENN_NAME_X = [(600, 1189), (2058, 2609), (3434, 4057)]
VENN_NAME_Y = [3199, 3211, 3227]
VENN_FONT = [(86, 88), (84, 84), (86, 88)]


def ellipse(cx, cy, rx, ry, fill, lw):
    shapes.append(dict(type="circle", xref="paper", yref="paper", x0=X(cx - rx), x1=X(cx + rx),
                       y0=Y(cy + ry), y1=Y(cy - ry), fillcolor=fill,
                       line=dict(width=lw, color="#0A0A0A")))


for k in range(3):
    lx, rx_c, r, cy, ry = VENN_GEOM[k]
    ellipse(lx, cy, r, ry, "#FDB97A", 0)
    ellipse(rx_c, cy, r, ry, "rgba(92,197,213,0.69)", 0)
    ellipse(lx, cy, r, ry, "rgba(0,0,0,0)", 4)
    ellipse(rx_c, cy, r, ry, "rgba(0,0,0,0)", 4)
    nx = VENN_NUM_X[k]
    text(VENN_LEFT[k], nx[0], VENN_NUM_Y[k], VENN_FONT[k][0])
    text(VENN_MIDDLE[k], nx[1], VENN_NUM_Y[k], VENN_FONT[k][0])
    text(VENN_RIGHT[k], nx[2], VENN_NUM_Y[k], VENN_FONT[k][0])
    text(VENN_LEFT_NAME[k], VENN_NAME_X[k][0], VENN_NAME_Y[k], VENN_FONT[k][1])
    text(VENN_RIGHT_NAME[k], VENN_NAME_X[k][1], VENN_NAME_Y[k], VENN_FONT[k][1])

hidden_x = dict(visible=False, showgrid=False, zeroline=False)
y_common = dict(showgrid=False, zeroline=False, showline=True, linewidth=4, linecolor=INK,
                ticks="outside", ticklen=11, tickwidth=4, tickcolor=INK, tickmode="array")

fig.update_layout(
    width=W, height=H, margin=dict(l=0, r=0, t=0, b=0, pad=0, autoexpand=False),
    paper_bgcolor=PAGE, plot_bgcolor="rgba(0,0,0,0)", barmode="overlay", showlegend=False,
    xaxis=dict(domain=[X(254.6), X(1998)], range=[0.5, 7.6], anchor="y", **hidden_x),
    yaxis=dict(domain=[Y(1977), Y(258)], range=[-19.31, 10.95], anchor="x",
               tickvals=[5, 0, -5, -10, -15], ticktext=["5", "0", "-5", "-10", "-15"],
               tickfont=dict(family=FONT, size=85, color=INK), ticklabelstandoff=12, **y_common),
    xaxis2=dict(domain=[X(2812), X(3600)], range=[0.439, 3.607], anchor="y2", **hidden_x),
    yaxis2=dict(domain=[Y(1629), Y(286)], range=[-8.53, 12.76], anchor="x2",
                tickvals=[10, 5, 0, -5], ticktext=["10", "5", "0", "-5"],
                tickfont=dict(family=FONT, size=92, color=INK), ticklabelstandoff=12, **y_common),
    annotations=notes, shapes=shapes,
)

# The browser window can be narrower than the figure: fit the page to the window's width.
FIT = """
document.body.style.margin = '0';
document.documentElement.style.overflow = 'hidden';
document.documentElement.style.background = '%s';
var s = Math.min(1, window.innerWidth / %d);
var g = document.querySelector('.plotly-graph-div');
g.style.transformOrigin = '0 0';
g.style.transform = 'scaleX(' + s + ')';
""" % (PAGE, W)
fig.write_html("out.html", post_script=FIT, config=dict(displayModeBar=False))
